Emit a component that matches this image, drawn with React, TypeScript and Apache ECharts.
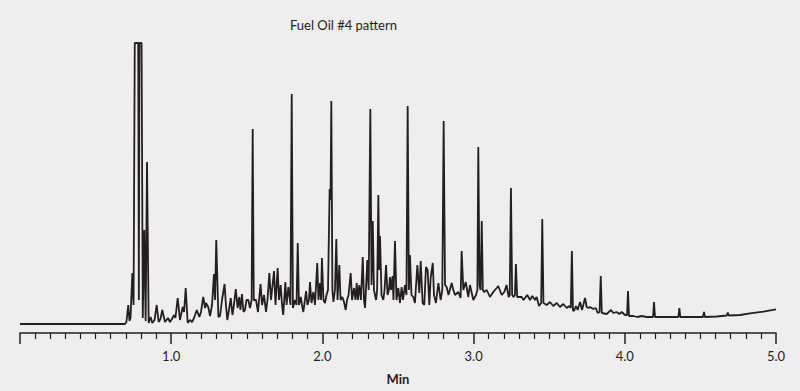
import React, { useEffect, useRef } from "react";
import * as echarts from "echarts";

// Retention time (min) and detector signal (arbitrary units, baseline = 0)
const retentionTime: number[] = [
  0.000, 0.694, 0.704, 0.716, 0.724, 0.731, 0.743, 0.751, 0.759, 0.782, 0.786, 0.790, 0.804, 0.812,
  0.822, 0.831, 0.840, 0.851, 0.864, 0.875, 0.890, 0.904, 0.917, 0.929, 0.941, 0.959, 0.979, 0.992,
  1.005, 1.019, 1.028, 1.043, 1.058, 1.076, 1.085, 1.096, 1.109, 1.124, 1.138, 1.151, 1.169, 1.186,
  1.197, 1.212, 1.224, 1.230, 1.245, 1.257, 1.270, 1.283, 1.290, 1.298, 1.312, 1.323, 1.336, 1.353,
  1.362, 1.371, 1.382, 1.394, 1.405, 1.415, 1.427, 1.439, 1.450, 1.458, 1.468, 1.478, 1.488, 1.498,
  1.510, 1.521, 1.532, 1.539, 1.546, 1.561, 1.574, 1.591, 1.601, 1.614, 1.627, 1.637, 1.649, 1.660,
  1.667, 1.680, 1.690, 1.704, 1.713, 1.724, 1.733, 1.741, 1.755, 1.763, 1.775, 1.789, 1.797, 1.805,
  1.819, 1.829, 1.837, 1.845, 1.857, 1.865, 1.874, 1.892, 1.901, 1.911, 1.918, 1.928, 1.940, 1.951,
  1.966, 1.974, 1.984, 1.991, 1.997, 2.007, 2.017, 2.027, 2.037, 2.048, 2.054, 2.059, 2.066, 2.073,
  2.083, 2.092, 2.100, 2.112, 2.120, 2.132, 2.143, 2.154, 2.163, 2.173, 2.187, 2.196, 2.209, 2.219,
  2.227, 2.235, 2.244, 2.255, 2.267, 2.275, 2.282, 2.288, 2.297, 2.306, 2.317, 2.325, 2.333, 2.341,
  2.355, 2.362, 2.370, 2.376, 2.381, 2.391, 2.403, 2.411, 2.421, 2.431, 2.440, 2.447, 2.454, 2.464,
  2.470, 2.480, 2.490, 2.502, 2.513, 2.524, 2.533, 2.546, 2.556, 2.564, 2.572, 2.579, 2.589, 2.601,
  2.612, 2.628, 2.641, 2.650, 2.663, 2.674, 2.685, 2.696, 2.707, 2.716, 2.730, 2.738, 2.751, 2.767,
  2.782, 2.793, 2.802, 2.811, 2.822, 2.834, 2.855, 2.866, 2.877, 2.899, 2.914, 2.921, 2.932, 2.948,
  2.965, 2.976, 2.998, 3.016, 3.025, 3.031, 3.039, 3.046, 3.054, 3.061, 3.069, 3.087, 3.108, 3.130,
  3.153, 3.163, 3.186, 3.203, 3.218, 3.232, 3.239, 3.247, 3.255, 3.264, 3.273, 3.280, 3.288, 3.318,
  3.330, 3.340, 3.355, 3.373, 3.388, 3.406, 3.417, 3.433, 3.447, 3.454, 3.462, 3.484, 3.505, 3.527,
  3.550, 3.571, 3.593, 3.616, 3.633, 3.643, 3.650, 3.657, 3.664, 3.677, 3.688, 3.704, 3.717, 3.737,
  3.748, 3.759, 3.770, 3.792, 3.808, 3.821, 3.833, 3.841, 3.848, 3.880, 3.909, 3.924, 3.946, 3.964,
  3.980, 4.001, 4.015, 4.021, 4.028, 4.056, 4.083, 4.112, 4.145, 4.187, 4.193, 4.200, 4.277, 4.354,
  4.361, 4.367, 4.453, 4.517, 4.524, 4.530, 4.608, 4.675, 4.681, 4.688, 4.762, 4.828, 4.916, 5.000,
];

const detectorSignal: number[] = [
  0, 0, 2, 19, 3, 6, 51, 19, 281, 281, 24, 281, 281, 6,
  94, 3, 162, 1, 7, 1, 4, 19, 2, 5, 14, 2, 6, 2,
  5, 9, 6, 26, 4, 17, 12, 36, 1, 4, 2, 6, 14, 7,
  12, 27, 16, 21, 17, 8, 19, 50, 24, 84, 7, 8, 24, 40,
  19, 4, 14, 26, 9, 19, 35, 16, 27, 14, 30, 12, 14, 24,
  24, 16, 24, 195, 24, 24, 12, 40, 19, 29, 12, 24, 51, 24,
  34, 53, 19, 56, 24, 39, 19, 9, 42, 19, 37, 19, 230, 16,
  24, 19, 81, 19, 27, 19, 12, 33, 19, 24, 42, 21, 32, 19,
  61, 24, 41, 24, 66, 24, 21, 29, 34, 135, 124, 223, 34, 22,
  34, 85, 24, 59, 24, 27, 22, 14, 24, 29, 51, 24, 36, 24,
  41, 24, 39, 24, 67, 24, 16, 34, 64, 34, 215, 39, 103, 34,
  24, 34, 129, 54, 88, 29, 24, 34, 59, 29, 34, 47, 34, 48,
  24, 83, 24, 36, 21, 37, 24, 39, 29, 218, 34, 69, 29, 27,
  21, 59, 31, 63, 21, 19, 57, 54, 19, 46, 61, 29, 21, 41,
  24, 34, 203, 39, 37, 29, 41, 34, 29, 32, 26, 73, 34, 42,
  27, 39, 24, 29, 34, 177, 39, 34, 103, 34, 32, 34, 27, 32,
  36, 38, 29, 32, 39, 27, 29, 136, 29, 27, 29, 60, 27, 27,
  24, 26, 29, 24, 28, 24, 27, 18, 21, 105, 21, 19, 22, 18,
  21, 17, 20, 16, 18, 16, 73, 14, 13, 18, 14, 22, 14, 26,
  17, 16, 17, 15, 16, 11, 12, 48, 11, 10, 14, 11, 12, 10,
  12, 9, 9, 33, 8, 8, 7, 8, 7, 7, 22, 7, 7, 7,
  16, 7, 7, 7, 12, 7, 7.5, 8.5, 11.5, 8.5, 9, 10.7, 12.3, 14.7,
];

const axisTickLabels: string[] = ["", "1.0", "2.0", "3.0", "4.0", "5.0"];
const chartTitle = "Fuel Oil #4 pattern";
const axisName = "Min";

const INK = "#231f20";
const FONT = "Lato, 'Liberation Sans', sans-serif";

export default function App() {
  const ref = useRef<HTMLDivElement>(null);

  useEffect(() => {
    if (!ref.current) return;
    const chart = echarts.init(ref.current, undefined, { renderer: "svg" });
    const data = retentionTime.map((t, i) => [t, detectorSignal[i]]);
    chart.setOption({
      animation: false,
      backgroundColor: "#eeeeee",
      title: {
        text: chartTitle,
        left: 290,
        top: 18,
        padding: 0,
        textStyle: { fontSize: 13, fontWeight: "normal", color: INK, fontFamily: FONT },
      },
      grid: { left: 20, right: 24, top: 43, bottom: 58 },
      xAxis: {
        type: "value",
        min: 0,
        max: 5,
        interval: 1,
        name: axisName,
        nameLocation: "middle",
        nameGap: 39,
        nameTextStyle: { fontSize: 13, fontWeight: "bold", color: INK, fontFamily: FONT },
        axisLine: { show: true, onZero: false, lineStyle: { color: INK, width: 1.5 } },
        axisTick: { show: true, length: 11, lineStyle: { color: INK, width: 1.5 } },
        minorTick: { show: true, splitNumber: 10, length: 6, lineStyle: { color: INK, width: 1.2 } },
        axisLabel: {
          margin: 16,
          fontSize: 13,
          color: INK,
          fontFamily: FONT,
          formatter: (v: number) => axisTickLabels[Math.round(v)] ?? "",
        },
        splitLine: { show: false },
        minorSplitLine: { show: false },
      },
      yAxis: {
        type: "value",
        min: -9,
        max: 281,
        show: false,
        splitLine: { show: false },
      },
      series: [
        {
          type: "line",
          data,
          showSymbol: false,
          symbol: "none",
          clip: false,
          lineStyle: { color: INK, width: 1.8 },
          emphasis: { disabled: true },
        },
      ],
    });
    return () => chart.dispose();
  }, []);

  return (
    <div
      ref={ref}
      style={{ position: "absolute", left: 0, top: 0, width: 800, height: 391 }}
    />
  );
}
